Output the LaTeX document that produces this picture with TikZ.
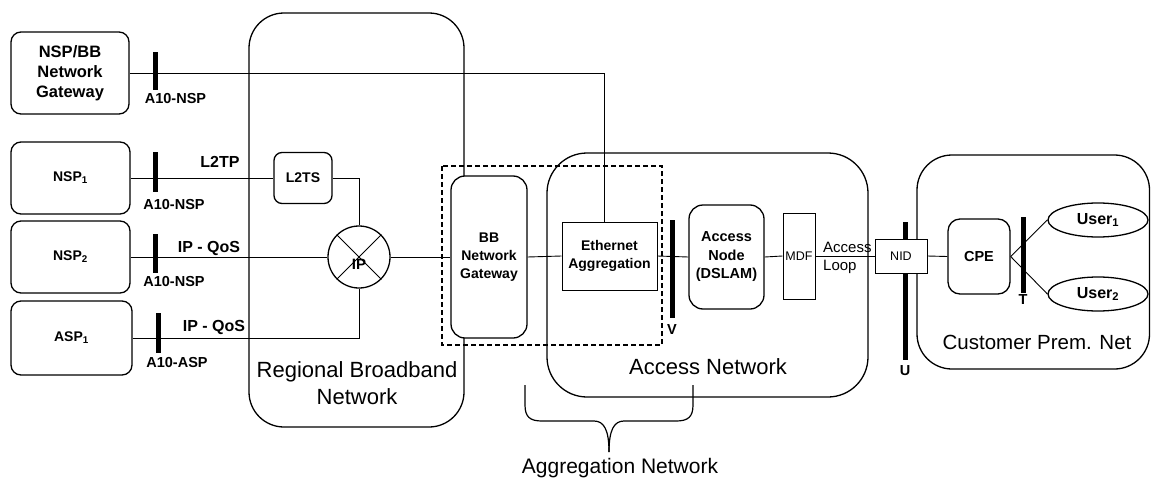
\documentclass[tikz,border=0pt]{standalone}
\usepackage{fontspec}
\setmainfont{Liberation Sans}
\usepackage{tikz}
\usetikzlibrary{positioning, shapes.geometric}

\begin{document}
\begin{tikzpicture}[x=1pt,y=-1pt]

	\tikzstyle{box} = [draw, line width=1.3pt, rounded corners=10pt, fill=white, inner sep=0pt, align=center, font=\fontsize{14}{18}\selectfont\bfseries]
	\tikzstyle{plain} = [draw, line width=1pt, fill=white, inner sep=0pt, align=center]
	\tikzstyle{area} = [draw, line width=1.3pt, rounded corners=35pt]
	\tikzstyle{line} = [line width=0.9pt]
	\tikzstyle{bar} = [line width=5pt]
	\tikzstyle{ref} = [font=\fontsize{14.5}{17}\selectfont\bfseries, inner sep=0pt]
	\tikzstyle{proto} = [font=\fontsize{16}{19}\selectfont\bfseries, inner sep=0pt]
	\tikzstyle{big} = [font=\fontsize{22}{27}\selectfont, align=center, inner sep=0pt]

	\useasboundingbox (0,0) rectangle (1151,479);

	% network areas
	\draw[area] (249,13) rectangle (464,427);
	\draw[area, rounded corners=40pt] (547,153) rectangle (868,397);
	\draw[area] (917,155) rectangle (1149.5,369);
	\draw[line width=1.8pt, dash pattern=on 5pt off 3pt] (442,166) rectangle (662,345);

	% reference points
	\draw[bar] (155.5,52) -- (155.5,90);
	\draw[bar] (155,152) -- (155,192);
	\draw[bar] (155.5,234) -- (155.5,273);
	\draw[bar] (158,313) -- (158,353);
	\draw[bar] (672,220) -- (672,318);
	\draw[bar] (905,222) -- (905,360);
	\draw[bar] (1023,217) -- (1023,293);

	% service providers
	\node[box, minimum width=118pt, minimum height=82pt, font=\fontsize{16.5}{20}\selectfont\bfseries] (nspbb) at (70,73) {NSP/BB\\Network\\Gateway};
	\node[box, minimum width=119pt, minimum height=72pt] (nsp1) at (70.5,178) {NSP\textsubscript{1}};
	\node[box, minimum width=119pt, minimum height=72pt] (nsp2) at (70.5,257) {NSP\textsubscript{2}};
	\node[box, minimum width=121pt, minimum height=74pt] (asp1) at (71.5,338) {ASP\textsubscript{1}};

	% regional network
	\node[box, rounded corners=8pt, minimum width=58pt, minimum height=51pt] (l2ts) at (303,178) {L2TS};
	\node[draw, circle, line width=1.3pt, fill=white, minimum size=62pt, inner sep=0pt] (ip) at (359,257) {};
	\node[box, rounded corners=14pt, minimum width=76pt, minimum height=162pt] (bbgw) at (489,257) {BB\\Network\\Gateway};

	% access network
	\node[plain, minimum width=95pt, minimum height=68pt, font=\fontsize{14}{18}\selectfont\bfseries] (ethagg) at (609.5,256) {Ethernet\\Aggregation};
	\node[box, rounded corners=14pt, minimum width=75pt, minimum height=104pt, font=\fontsize{14.5}{18.5}\selectfont\bfseries] (accnode) at (726.5,257) {Access\\Node\\(DSLAM)};
	\node[plain, minimum width=32pt, minimum height=86pt, font=\fontsize{12.5}{15}\selectfont] (mdf) at (799,256) {MDF};
	\node[plain, minimum width=52pt, minimum height=34pt, font=\fontsize{12.5}{15}\selectfont] (nid) at (901,256) {NID};

	% customer premises
	\node[box, rounded corners=12pt, minimum width=62pt, minimum height=75pt, font=\fontsize{14.5}{18}\selectfont\bfseries] (cpe) at (979,256.5) {CPE};
	\node[draw, ellipse, line width=1.3pt, minimum width=100pt, minimum height=34pt, inner sep=0pt, font=\fontsize{16}{19}\selectfont\bfseries] (user1) at (1098,220) {User\textsubscript{1}};
	\node[draw, ellipse, line width=1.3pt, minimum width=100pt, minimum height=34pt, inner sep=0pt, font=\fontsize{16}{19}\selectfont\bfseries] (user2) at (1098,294) {User\textsubscript{2}};

	% links
	\coordinate (tap) at ([xshift=-5pt]ethagg.north);
	\draw[line] (nspbb.east) -- (nspbb.east -| tap) -- (tap);
	\draw[line] (nsp1.east) -- (l2ts.west);
	\draw[line] (l2ts.east) -| (ip.north);
	\draw[line] (nsp2.east) -- (ip.west);
	\draw[line] (asp1.east) -| (ip.south);
	\draw[line] (ip.north west) -- (ip.south east) (ip.north east) -- (ip.south west);
	\node[font=\fontsize{15}{18}\selectfont\bfseries, inner sep=0pt] (iplabel) at (359,264) {IP};
	\draw[line] (ip.east) -- (bbgw.west);
	\draw[line] (bbgw.east) -- (ethagg.west);
	\draw[line] (ethagg.east) -- (accnode.west);
	\draw[line] (accnode.east) -- (mdf.west);
	\draw[line] (mdf.east) -- (nid.west);
	\draw[line] (nid.east) -- (cpe.west);
	\draw[line] (cpe.east) -- (user1.west);
	\draw[line] (cpe.east) -- (user2.west);

	% labels
	\node[ref] (r1) at (175.5,98.5) {A10-NSP};
	\node[ref] (r2) at (174,204.5) {A10-NSP};
	\node[ref] (r3) at (174,281.5) {A10-NSP};
	\node[ref] (r4) at (177,363) {A10-ASP};
	\node[proto] (p1) at (220,161.5) {L2TP};
	\node[proto] (p2) at (209,248.5) {IP - QoS};
	\node[proto] (p3) at (214,327.5) {IP - QoS};
	\node[ref] (rv) at (672,330) {V};
	\node[ref] (ru) at (905,371) {U};
	\node[ref] (rt) at (1023,300) {T};
	\node[font=\fontsize{15}{18}\selectfont, align=left, anchor=west, inner sep=0pt] (loop) at (823,258) {Access\\Loop};
	\node[big] (rbn) at (357,383) {Regional Broadband\\Network};
	\node[big] (an) at (708,367) {Access Network};
	\node[big, font=\fontsize{20.5}{24}\selectfont] (cpn) at (1037,342) {Customer Prem. Net};
	\node[big, font=\fontsize{21}{24}\selectfont] (agg) at (620,468) {Aggregation Network};

	% brace
	\draw[line width=1.2pt] (525,385) -- (525,405) .. controls (525,417) and (530,421) .. (542,421) -- (594,421)
		.. controls (604,421) and (609,430) .. (609,452);
	\draw[line width=1.2pt] (693,385) -- (693,405) .. controls (693,417) and (688,421) .. (676,421) -- (624,421)
		.. controls (614,421) and (609,430) .. (609,452);

\end{tikzpicture}
\end{document}
